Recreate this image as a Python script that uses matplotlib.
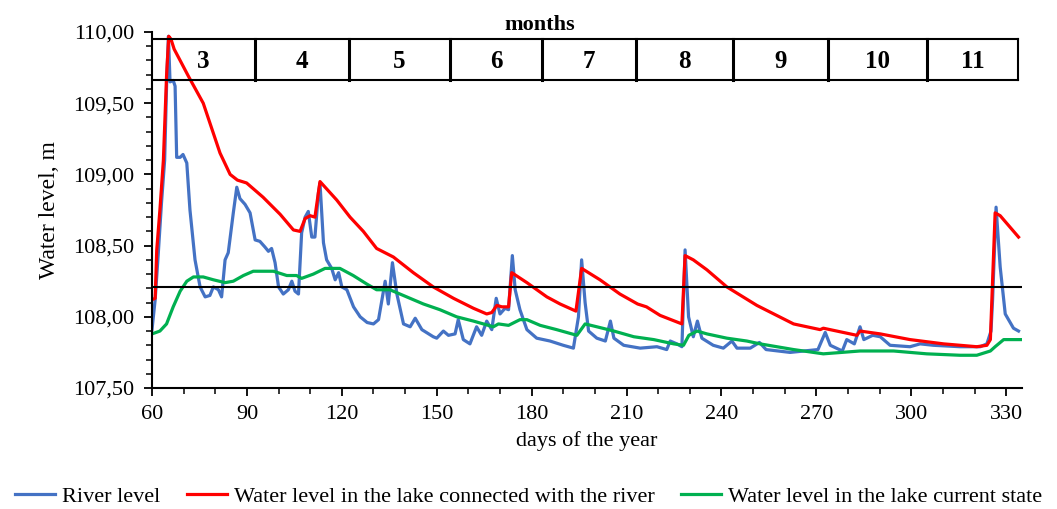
import numpy as np
import matplotlib
matplotlib.use('Agg')
import matplotlib.pyplot as plt
from matplotlib.ticker import MultipleLocator, FuncFormatter

plt.rcParams['font.family'] = ['Liberation Serif', 'DejaVu Serif']

# River level (day of year, m)
river_days = [60, 61, 62, 63, 64, 64.7, 65.2, 65.7, 66.7, 67.3, 67.8, 68.9, 69.8, 71, 72,
              73.6, 75.2, 76.8, 78.3, 79.4, 81, 82, 83.1, 84.1, 85.7, 86.8, 87.8, 89.4, 91,
              92.6, 94.1, 95.7, 96.8, 97.8, 98.9, 100, 101.5, 103.1, 104.2, 105.2, 106.3,
              107.3, 108.4, 109.4, 110.5, 111.5, 112.6, 113.1, 114.2, 115.2, 116.8, 117.9,
              119, 120, 121.6, 123.7, 125.8, 128, 130, 131.6, 133.7, 134.7, 136, 137.4,
              139.5, 141.6, 143.2, 145.3, 148.9, 150, 152.1, 153.7, 155.8, 156.8, 158.4,
              160.5, 162.6, 164.2, 165.8, 167.4, 168.8, 170, 171.6, 172.7, 173.9, 174.8,
              176.3, 178.5, 181.6, 185.8, 190, 193.2, 194.8, 195.8, 196.9, 198, 200.6,
              203.3, 204.9, 206, 209.1, 214.3, 219.6, 222.7, 223.8, 225.9, 227.5, 228.5,
              229.6, 231.1, 232.4, 233.8, 237.4, 240.6, 243.3, 244.9, 249.1, 252, 254.1,
              258, 261.7, 266, 270.5, 272.8, 274.4, 278.2, 279.6, 282, 283.8, 285, 287.8,
              290.2, 293.3, 299.6, 302.8, 307, 315.4, 321.8, 323.9, 325.2, 325.7, 326.8,
              328.1, 329.7, 332.3, 333.9]
river_level = [107.91, 108.12, 108.45, 108.80, 109.10, 109.70, 109.97, 109.65, 109.66, 109.62,
               109.12, 109.12, 109.14, 109.08, 108.75, 108.40, 108.21, 108.14, 108.15, 108.21,
               108.19, 108.14, 108.40, 108.45, 108.73, 108.91, 108.83, 108.79, 108.73, 108.54,
               108.53, 108.49, 108.46, 108.48, 108.38, 108.21, 108.16, 108.19, 108.25, 108.18,
               108.16, 108.59, 108.70, 108.74, 108.56, 108.56, 108.87, 108.94, 108.52, 108.40,
               108.34, 108.26, 108.31, 108.21, 108.19, 108.07, 108.00, 107.96, 107.95, 107.98,
               108.25, 108.09, 108.38, 108.16, 107.95, 107.93, 107.99, 107.91, 107.86, 107.85,
               107.90, 107.87, 107.88, 107.98, 107.84, 107.81, 107.93, 107.87, 107.97, 107.91,
               108.13, 108.02, 108.06, 108.05, 108.43, 108.19, 108.05, 107.91, 107.85, 107.83,
               107.80, 107.78, 108.00, 108.40, 108.10, 107.90, 107.85, 107.83, 107.97, 107.85,
               107.80, 107.78, 107.79, 107.77, 107.83, 107.81, 107.79, 108.47, 108.00, 107.86,
               107.97, 107.85, 107.80, 107.78, 107.83, 107.78, 107.78, 107.82, 107.77, 107.76,
               107.75, 107.76, 107.77, 107.89, 107.80, 107.76, 107.84, 107.81, 107.93, 107.84,
               107.87, 107.86, 107.80, 107.79, 107.81, 107.80, 107.79, 107.79, 107.81, 107.90,
               108.12, 108.77, 108.35, 108.02, 107.92, 107.90]

# Lake connected with the river
connected_days = [60, 61, 61.5, 62.5, 63.6, 64.6, 65.3, 66, 67, 68.9, 71.5, 76.2, 81.5, 84.7,
                  87, 89.9, 95.1, 100.5, 104.7, 106.8, 108.4, 110, 111.5, 113.1, 118.4, 122.6,
                  126.8, 131, 136.3, 142.6, 148.9, 155.3, 161.6, 165.8, 167.4, 169, 170.6,
                  172.7, 173.7, 178.5, 184.8, 189, 194, 195.8, 201.6, 207.9, 213.5, 216.3,
                  220.6, 227.5, 228.5, 231.1, 235.4, 241.7, 251.2, 262.8, 271.2, 272.2, 282.8,
                  283.8, 290.2, 299.6, 310.2, 320.7, 323.9, 325, 326.5, 328.1, 333.9]
connected_level = [108.12, 108.13, 108.47, 108.75, 109.10, 109.69, 109.97, 109.95, 109.88,
                   109.80, 109.69, 109.50, 109.15, 109.00, 108.96, 108.94, 108.84, 108.72,
                   108.61, 108.60, 108.69, 108.71, 108.70, 108.95, 108.82, 108.70, 108.60,
                   108.48, 108.42, 108.31, 108.21, 108.13, 108.06, 108.02, 108.03, 108.08,
                   108.07, 108.07, 108.31, 108.24, 108.14, 108.09, 108.04, 108.34, 108.26,
                   108.16, 108.09, 108.07, 108.01, 107.95, 108.43, 108.40, 108.33, 108.21,
                   108.08, 107.95, 107.91, 107.92, 107.87, 107.90, 107.88, 107.84, 107.81,
                   107.79, 107.80, 107.84, 108.73, 108.71, 108.56]

# Lake, current state
current_days = [60, 62.5, 64.6, 66.7, 68.9, 71, 73.1, 76.2, 79.4, 83.1, 85.7, 88.9, 92, 98.4,
                102.6, 105.7, 107.3, 111, 114.7, 119.4, 123.6, 127.9, 131, 135.2, 140.5,
                145.8, 151, 156.3, 161.6, 167.9, 169.5, 172.7, 176.3, 178.5, 182.7, 187.9,
                194.3, 196.9, 200.6, 206, 212.3, 218.6, 224.9, 228, 229.7, 232.3, 235.4,
                241.7, 248, 252.2, 262.8, 272.2, 283.8, 294.4, 304.9, 315.4, 320.7, 325,
                326.5, 329.2, 335.5]
current_level = [107.88, 107.90, 107.95, 108.07, 108.18, 108.25, 108.28, 108.28, 108.26,
                 108.24, 108.25, 108.29, 108.32, 108.32, 108.29, 108.29, 108.27, 108.30,
                 108.34, 108.34, 108.29, 108.23, 108.19, 108.19, 108.14, 108.09, 108.05,
                 108.00, 107.97, 107.93, 107.95, 107.94, 107.98, 107.98, 107.94, 107.91,
                 107.87, 107.95, 107.93, 107.90, 107.86, 107.84, 107.81, 107.80, 107.87,
                 107.90, 107.88, 107.85, 107.83, 107.81, 107.77, 107.74, 107.76, 107.76,
                 107.74, 107.73, 107.73, 107.76, 107.79, 107.84, 107.84]

threshold = 108.21

# months strip: labels and boundaries (day of year)
month_labels = ['3', '4', '5', '6', '7', '8', '9', '10', '11']
month_edges = [60, 92.6, 122.3, 154.2, 183.3, 213, 243.7, 273.7, 305, 333.8]

fig = plt.figure(figsize=(10.57, 5.09), dpi=100)
ax = fig.add_axes([0.1438, 0.2377, 0.8231, 0.6994])

ax.plot(river_days, river_level, color='#4472C4', lw=2.3, label='River level')
ax.plot(connected_days, connected_level, color='#FF0000', lw=2.3,
        label='Water level in the lake connected with the river')
ax.plot(current_days, current_level, color='#00B050', lw=2.3,
        label='Water level in the lake current state')
ax.plot([60, 335], [threshold, threshold], color='black', lw=1.5)

# months table
top, bot = 109.95, 109.66
ax.plot([month_edges[0], month_edges[-1]], [top, top], color='black', lw=1.5)
ax.plot([month_edges[0], month_edges[-1]], [bot, bot], color='black', lw=1.5)
for e in month_edges[1:]:
    ax.plot([e, e], [bot, top], color='black', lw=2.2 if e != month_edges[-1] else 1.5)
for i, lab in enumerate(month_labels):
    mid = (month_edges[i] + month_edges[i + 1]) / 2
    ax.text(mid, 109.795, lab, ha='center', va='center', fontsize=18, fontweight='bold')
ax.text(182.5, 110.05, 'months', ha='center', va='center', fontsize=16,
        fontweight='bold', clip_on=False)

ax.set_xlim(60, 335)
ax.set_ylim(107.5, 110.0)
ax.xaxis.set_major_locator(MultipleLocator(30))
ax.xaxis.set_minor_locator(MultipleLocator(10))
ax.yaxis.set_major_locator(MultipleLocator(0.5))
ax.yaxis.set_minor_locator(MultipleLocator(0.1))
ax.yaxis.set_major_formatter(FuncFormatter(lambda v, p: f'{v:.2f}'.replace('.', ',')))
ax.spines['top'].set_visible(False)
ax.spines['right'].set_visible(False)
for s in ('left', 'bottom'):
    ax.spines[s].set_linewidth(1.5)
ax.tick_params(which='major', direction='out', length=6, width=1.3, labelsize=16)
ax.tick_params(axis='y', which='major', pad=7)
ax.tick_params(axis='x', which='major', pad=6)
ax.tick_params(which='minor', direction='out', length=4, width=1.1)
ax.set_xlabel('days of the year', fontsize=16, labelpad=5)
ax.set_ylabel('Water level, m', fontsize=17, labelpad=9)

fig.legend(loc='center', bbox_to_anchor=(0.5, 0.024), ncol=3, frameon=False,
           fontsize=16, handlelength=1.8, handletextpad=0.3, columnspacing=1.2)

fig.savefig('out.png', dpi=100)
